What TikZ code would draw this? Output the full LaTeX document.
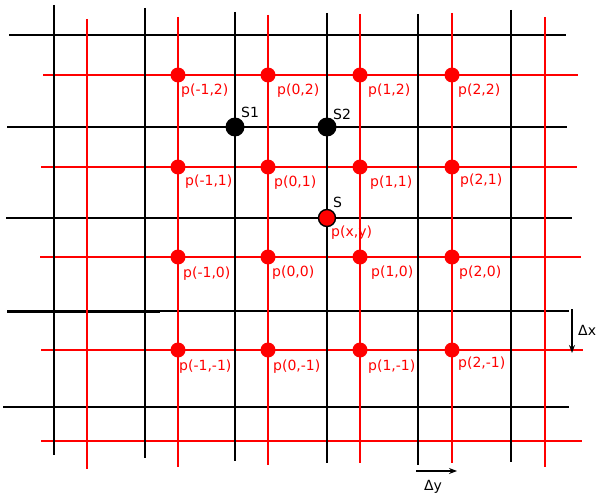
\documentclass[tikz,border=0pt]{standalone}
\usepackage{fontspec}
\setmainfont{DejaVu Sans}
\usetikzlibrary{arrows.meta}
\begin{document}
\begin{tikzpicture}[x=1pt,y=-1pt,
  blk/.style={line width=2.9pt,black},
  rd/.style={line width=1.8pt,red},
  rdot/.style={circle,fill=red,inner sep=0pt,minimum size=15pt},
  bdot/.style={circle,fill=black,inner sep=0pt,minimum size=19pt},
  sdot/.style={circle,fill=red,draw=black,line width=1.4pt,inner sep=0pt,minimum size=17pt},
  lbl/.style={anchor=west,inner sep=0pt,font=\fontsize{14}{16}\selectfont,text=red},
  blbl/.style={lbl,text=black},
  delta/.style={line width=1.2pt,black,-{Stealth[length=8pt,width=6pt]}}]
\useasboundingbox (0,0) rectangle (600,495);
% black horizontal lines
\draw[blk] (9,35) -- (566,35);
\draw[blk] (7,127) -- (567,127);
\draw[blk] (6,218) -- (572,218);
\draw[blk] (7,311) -- (569,311);
\draw[line width=3.6pt] (7,311.3) -- (160,311.3);
\draw[blk] (3,407) -- (569,407);
% red vertical lines
\draw[rd] (87,19) -- (87,469);
\draw[rd] (178,17) -- (178,467);
\draw[rd] (268,15) -- (268,465);
\draw[rd] (360,14) -- (360,463);
\draw[rd] (452,13) -- (452,463);
\draw[rd] (545,17) -- (545,467);
% red horizontal lines
\draw[rd] (43,75) -- (578,75);
\draw[rd] (41,167) -- (577,167);
\draw[rd] (40,257) -- (581,257);
\draw[rd] (41,350) -- (583,350);
\draw[rd] (41,441) -- (582,441);
% black vertical lines
\draw[blk] (54,5) -- (54,455);
\draw[blk] (145,8) -- (145,458);
\draw[blk] (235,12) -- (235,461);
\draw[blk] (327,13) -- (327,463);
\draw[blk] (418,14) -- (418,465);
\draw[blk] (511,10) -- (511,462);
% red sample points
\node[rdot] (pm12) at (178,75) {};
\node[rdot] (p02) at (268,75) {};
\node[rdot] (p12) at (360,75) {};
\node[rdot] (p22) at (452,75) {};
\node[rdot] (pm11) at (178,167) {};
\node[rdot] (p01) at (268,167) {};
\node[rdot] (p11) at (360,167) {};
\node[rdot] (p21) at (452,167) {};
\node[rdot] (pm10) at (178,257) {};
\node[rdot] (p00) at (268,257) {};
\node[rdot] (p10) at (360,257) {};
\node[rdot] (p20) at (452,257) {};
\node[rdot] (pm1m1) at (178,350) {};
\node[rdot] (p0m1) at (268,350) {};
\node[rdot] (p1m1) at (360,350) {};
\node[rdot] (p2m1) at (452,350) {};
% labels
\node[lbl] (lpm12) at (181,91) {p(-1,2)};
\node[lbl] (lp02) at (277,91) {p(0,2)};
\node[lbl] (lp12) at (368,91) {p(1,2)};
\node[lbl] (lp22) at (458,91) {p(2,2)};
\node[lbl] (lpm11) at (185,182) {p(-1,1)};
\node[lbl] (lp01) at (274,183) {p(0,1)};
\node[lbl] (lp11) at (370,183) {p(1,1)};
\node[lbl] (lp21) at (460,181) {p(2,1)};
\node[lbl] (lpm10) at (183,274) {p(-1,0)};
\node[lbl] (lp00) at (272,273) {p(0,0)};
\node[lbl] (lp10) at (371,273) {p(1,0)};
\node[lbl] (lp20) at (459,273) {p(2,0)};
\node[lbl] (lpm1m1) at (179,367) {p(-1,-1)};
\node[lbl] (lp0m1) at (273,367) {p(0,-1)};
\node[lbl] (lp1m1) at (368,367) {p(1,-1)};
\node[lbl] (lp2m1) at (458,364) {p(2,-1)};
% special points
\node[bdot] (S1) at (235,127) {};
\node[bdot] (S2) at (327,127) {};
\node[sdot] (S) at (327,218) {};
\node[blbl] (lS1) at (241,112) {S1};
\node[blbl] (lS2) at (333,114) {S2};
\node[blbl] (lS) at (333,202) {S};
\node[lbl] (lpxy) at (331,233) {p(x,y)};
% delta arrows
\coordinate (dxa) at (572,309);
\coordinate (dxb) at (572,353);
\draw[delta] (dxa) -- (dxb);
\node[blbl] (ldx) at (578,330) {Δx};
\coordinate (dya) at (416,471);
\coordinate (dyb) at (457,471);
\draw[delta] (dya) -- (dyb);
\node[blbl,anchor=center] (ldy) at (433,487) {Δy};
\end{tikzpicture}
\end{document}
